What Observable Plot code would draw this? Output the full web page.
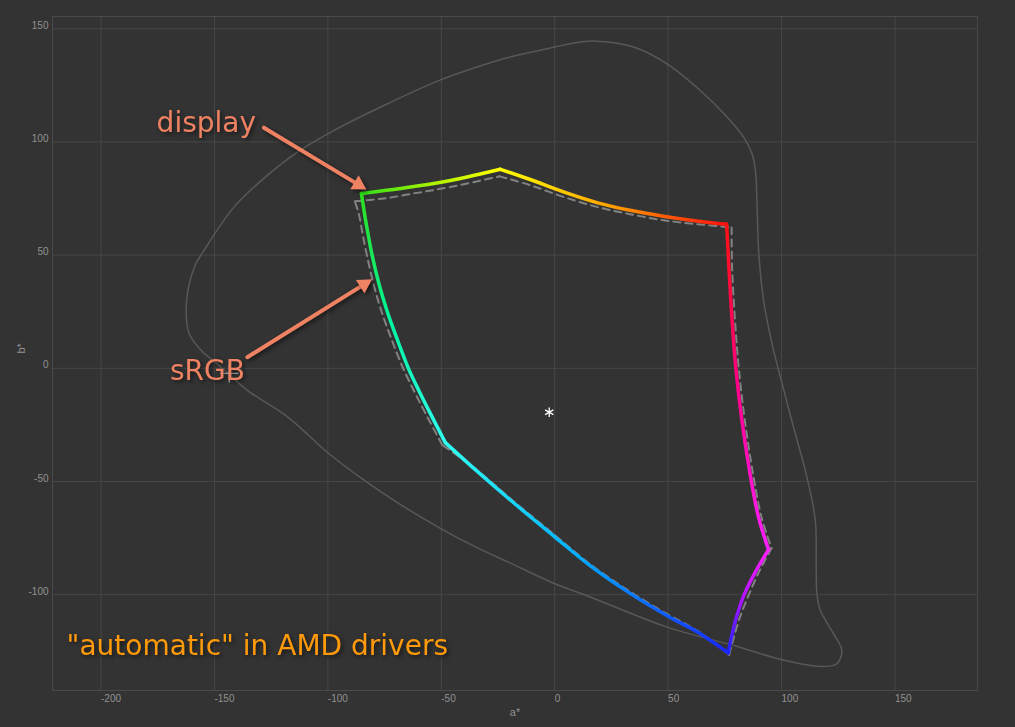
<!DOCTYPE html>
<html><head><meta charset="utf-8">
<script src="https://cdn.jsdelivr.net/npm/d3@7"></script>
<script src="https://cdn.jsdelivr.net/npm/@observablehq/plot@0.6"></script>
<style>
html,body{margin:0;padding:0;background:#333333;}
#chart{width:1015px;height:727px;overflow:hidden;}
</style></head><body><div id="chart"></div>
<script>
// ---- axis ticks ----
const xTicks = [-200, -150, -100, -50, 0, 50, 100, 150];
const yTicks = [-100, -50, 0, 50, 100, 150];

// ---- spectral locus outline (a*, b*), clockwise from the top ----
const locusA = [18.7, 34.8, 49.5, 64.2, 76.0, 83.3, 87.0, 88.5, 89.2, 89.9, 92.1, 95.8, 99.5, 105.3, 111.2, 114.9, 115.3, 115.6, 117.1, 122.9, 126.6, 124.4, 117.1, 100.2, 78.9, 49.5, 16.2, -0.4, -17.6, -34.5, -51.4, -69.5, -85.3, -100.0, -117.9, -135.5, -147.3, -156.0, -161.2, -162.4, -161.9, -158.5, -154.6, -141.4, -126.7, -113.4, -97.3, -75.3, -50.3, -35.7, -20.9, 0.0, 11.3];
const locusB = [144.5, 141.9, 134.5, 122.7, 111.0, 102.1, 94.8, 87.4, 72.7, 52.1, 30.0, 10.9, -3.9, -26.0, -48.1, -67.2, -87.8, -99.6, -106.9, -117.2, -124.6, -130.5, -131.7, -128.7, -122.4, -114.3, -101.2, -94.9, -86.9, -79.1, -70.1, -59.2, -48.5, -37.3, -21.3, -9.7, 0.7, 8.1, 15.4, 22.6, 33.1, 45.5, 52.1, 71.2, 85.2, 95.5, 105.1, 116.1, 127.4, 132.6, 137.2, 141.9, 144.1];

// ---- display gamut boundary (green -> yellow -> red -> magenta -> blue -> cyan -> green) ----
const displayA = [-85.2, -68.0, -53.3, -38.6, -24.0, -10.8, 3.9, 18.6, 33.2, 47.9, 62.6, 75.8, 76.8, 78.1, 79.8, 82.3, 85.6, 89.8, 94.3, 89.0, 83.8, 80.2, 78.0, 76.5, 63.5, 50.0, 33.1, 16.2, 0.0, -17.6, -34.5, -48.2, -54.8, -59.8, -64.5, -69.3, -73.8, -77.4, -80.5, -82.4, -83.8, -85.2];
const displayB = [77.2, 79.4, 81.6, 84.5, 87.9, 83.4, 77.9, 73.2, 69.8, 67.2, 65.1, 63.6, 44.8, 22.8, 0.7, -21.3, -43.4, -65.5, -80.1, -89.0, -99.3, -109.6, -118.4, -125.7, -116.8, -109.5, -99.3, -87.6, -74.4, -59.8, -45.2, -32.8, -20.0, -10.0, 0.0, 12.5, 25.0, 37.0, 50.0, 60.0, 68.0, 77.2];

// ---- sRGB gamut boundary (same order) ----
const srgbA = [-88.1, -75.4, -60.7, -46.0, -24.3, -10.8, 3.9, 18.6, 33.2, 47.9, 62.6, 78.0, 78.2, 79.4, 81.1, 83.6, 86.9, 91.1, 95.6, 90.5, 85.3, 81.3, 78.7, 76.9, 63.0, 49.5, 33.0, 16.0, 0.0, -17.8, -34.8, -49.6, -56.9, -62.0, -66.8, -71.8, -76.3, -79.8, -82.8, -84.8, -86.3, -88.1];
const srgbB = [73.8, 75.0, 77.5, 80.1, 84.8, 80.9, 75.7, 71.3, 68.1, 65.4, 63.7, 62.2, 44.8, 22.8, 0.7, -21.3, -43.4, -65.5, -79.4, -89.0, -100.7, -111.0, -119.8, -126.5, -116.0, -108.5, -98.5, -86.8, -73.6, -59.0, -44.5, -33.8, -20.0, -10.0, 0.0, 12.5, 25.0, 37.0, 50.0, 60.0, 68.0, 73.8];

// corner indices in the gamut paths and their primaries
const cornerIndex = [0, 4, 11, 18, 23, 31, 41];
const cornerColor = ["#2ee01a", "#ffff00", "#ff1010", "#ff20ff", "#1a24ff", "#30fff0", "#2ee01b"];

// ---- markers ----
const whiteA = [-2.4], whiteB = [-19.4];
const cursorA = [-143.5], cursorB = [-2.2];

// ---- annotations ----
const noteText = ["display", "sRGB"];
const noteA = [-175.5, -169.6];
const noteB = [104.3, -5.3];
const arrowX1 = [-128.2, -135.5], arrowY1 = [106.3, 4.9];
const arrowX2 = [-83.0, -80.5], arrowY2 = [79.0, 39.3];
const captionText = ["\"automatic\" in AMD drivers"];
const captionA = [-215.2], captionB = [-126.8];

// ---- layout ----
const W = 1015, H = 727, ML = 52, MR = 38, MT = 16, MB = 37;
const xDomain = [-221.4, 186.4], yDomain = [-142.3, 155.4];
const kx = (W - ML - MR) / (xDomain[1] - xDomain[0]);
const ky = (H - MT - MB) / (yDomain[1] - yDomain[0]);

// ---- build tables ----
const locus = locusA.map((a, i) => ({a, b: locusB[i]}));
function edgeTable(A, B) {
  const rows = [];
  for (let e = 0; e < cornerIndex.length - 1; e++) {
    for (let i = cornerIndex[e]; i <= cornerIndex[e + 1]; i++) rows.push({a: A[i], b: B[i], edge: e});
  }
  return rows;
}
const srgb = edgeTable(srgbA, srgbB);
const disp = edgeTable(displayA, displayB);
const notes = noteText.map((t, i) => ({t, a: noteA[i], b: noteB[i]}));
const HEAD = 6; // triangle head radius (px)
const headBack = 2 * Math.sqrt(Math.PI * HEAD * HEAD / (Math.sqrt(3) * 3)); // tip-to-centroid distance
const arrows = arrowX1.map((x, i) => {
  const sxv = (arrowX2[i] - x) * kx, syv = -(arrowY2[i] - arrowY1[i]) * ky;
  const len = Math.hypot(sxv, syv), ux = sxv / len, uy = syv / len;
  return {
    x1: x, y1: arrowY1[i], x2: arrowX2[i], y2: arrowY2[i],
    rot: Math.atan2(ux, -uy) * 180 / Math.PI,
    hx: arrowX2[i] - ux * headBack / kx,
    hy: arrowY2[i] + uy * headBack / ky
  };
});
const captions = captionText.map((t, i) => ({t, a: captionA[i], b: captionB[i]}));

const NOTE = "#ef8262";
const CAP = "#ff9a0a";
const plot = Plot.plot({
  width: W, height: H,
  marginLeft: ML, marginRight: MR, marginTop: MT, marginBottom: MB,
  x: {domain: xDomain, axis: null},
  y: {domain: yDomain, axis: null},
  style: {background: "#333333", fontFamily: "'Liberation Sans', Arial, sans-serif", fontSize: "10px", overflow: "visible"},
  marks: [
    Plot.gridX(xTicks, {stroke: "#474747", strokeOpacity: 1}),
    Plot.gridY(yTicks, {stroke: "#474747", strokeOpacity: 1}),
    Plot.frame({stroke: "#4a4a4a"}),
    Plot.text(xTicks, {x: d => d, frameAnchor: "bottom", dy: 11, dx: 0, textAnchor: "start", lineAnchor: "bottom", fill: "#929292", fontSize: 10}),
    Plot.text(yTicks, {y: d => d, frameAnchor: "left", dx: -4, dy: 0, textAnchor: "end", lineAnchor: "bottom", fill: "#929292", fontSize: 10}),
    Plot.text(["a*"], {frameAnchor: "bottom", dy: 25, lineAnchor: "bottom", fill: "#929292", fontSize: 11}),
    Plot.text(["b*"], {frameAnchor: "left", dx: -31, rotate: -90, fill: "#929292", fontSize: 11}),
    Plot.line(locus, {x: "a", y: "b", stroke: "#585858", strokeWidth: 1.5, curve: "catmull-rom-closed"}),
    Plot.line(srgb, {x: "a", y: "b", z: "edge", stroke: "#828282", strokeWidth: 2, strokeDasharray: "7,5", curve: "catmull-rom"}),
    Plot.line(disp, {x: "a", y: "b", z: "edge", stroke: d => cornerColor[d.edge], strokeWidth: 3.5, strokeLinecap: "round", strokeLinejoin: "round", curve: "catmull-rom"}),
    Plot.dot(whiteA.map((a, i) => ({a, b: whiteB[i]})), {x: "a", y: "b", symbol: "asterisk", r: 4.5, stroke: "#ffffff", strokeWidth: 1.3}),
    Plot.dot(cursorA.map((a, i) => ({a, b: cursorB[i]})), {x: "a", y: "b", symbol: "plus", r: 6, stroke: "#cfcfcf", strokeWidth: 1}),
    Plot.arrow(arrows, {x1: "x1", y1: "y1", x2: "x2", y2: "y2", stroke: NOTE, strokeWidth: 4, headLength: 0, insetEnd: 8, strokeLinecap: "round"}),
    Plot.dot(arrows, {x: "hx", y: "hy", rotate: "rot", symbol: "triangle", r: HEAD, fill: NOTE, stroke: "none"}),
    Plot.text(notes, {x: "a", y: "b", text: "t", textAnchor: "start", lineAnchor: "bottom", fill: NOTE, fontSize: 28, fontFamily: "'DejaVu Sans', sans-serif"}),
    Plot.text(captions, {x: "a", y: "b", text: "t", textAnchor: "start", lineAnchor: "bottom", fill: CAP, fontSize: 28, fontFamily: "'DejaVu Sans', sans-serif"})
  ]
});
document.getElementById("chart").appendChild(plot);

// colour each display-gamut edge with a gradient running from one primary to the next
try {
  const svgEl = plot.tagName.toLowerCase() === "svg" ? plot : plot.querySelector("svg");
  const sx = plot.scale("x"), sy = plot.scale("y");
  const ns = "http://www.w3.org/2000/svg";
  const defs = document.createElementNS(ns, "defs");
  svgEl.insertBefore(defs, svgEl.firstChild);
  for (let e = 0; e < cornerIndex.length - 1; e++) {
    const path = Array.from(svgEl.querySelectorAll("path")).find(p => p.getAttribute("stroke") === cornerColor[e]);
    if (!path) continue;
    const i0 = cornerIndex[e], i1 = cornerIndex[e + 1];
    const g = document.createElementNS(ns, "linearGradient");
    g.setAttribute("id", "edgegrad" + e);
    g.setAttribute("gradientUnits", "userSpaceOnUse");
    g.setAttribute("x1", sx.apply(displayA[i0]));
    g.setAttribute("y1", sy.apply(displayB[i0]));
    g.setAttribute("x2", sx.apply(displayA[i1]));
    g.setAttribute("y2", sy.apply(displayB[i1]));
    [[0, cornerColor[e]], [0.5, d3.interpolateHcl(cornerColor[e], cornerColor[e + 1])(0.5)], [1, cornerColor[e + 1]]].forEach(([o, c]) => {
      const s = document.createElementNS(ns, "stop");
      s.setAttribute("offset", o);
      s.setAttribute("stop-color", d3.color(c).formatHex());
      g.appendChild(s);
    });
    defs.appendChild(g);
    path.setAttribute("stroke", "url(#edgegrad" + e + ")");
  }
  d3.select(svgEl).selectAll("g[fill='" + NOTE + "'], g[fill='" + CAP + "'], g[stroke='" + NOTE + "']")
    .style("filter", "drop-shadow(2px 2px 2px rgba(0,0,0,0.55))");
} catch (err) { /* keep solid edge colours */ }
</script>
</body></html>
